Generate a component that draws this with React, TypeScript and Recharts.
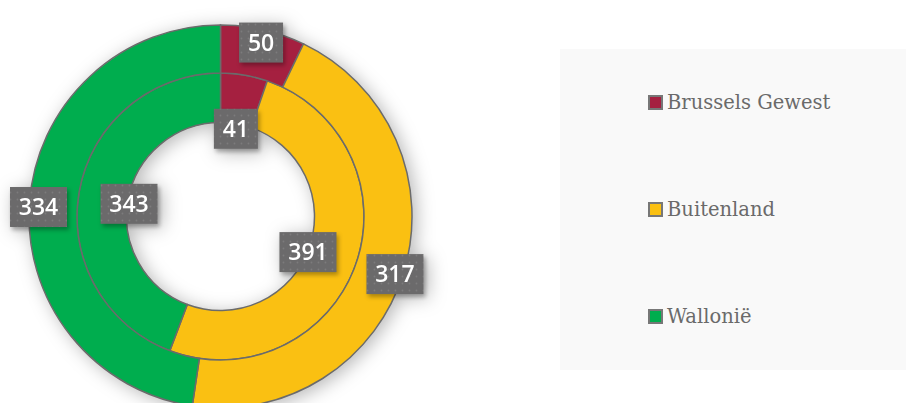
import React from "react";
import { PieChart, Pie, Cell, Legend } from "recharts";

const regions = ["Brussels Gewest", "Buitenland", "Wallonië"];
const outerValues = [50, 317, 334];
const innerValues = [41, 391, 343];
const colors = ["#a52040", "#fac012", "#00ad4e"];

const outerData = regions.map((name, i) => ({ name, value: outerValues[i] }));
const innerData = regions.map((name, i) => ({ name, value: innerValues[i] }));

const W = 906;
const H = 403;

const makeLabel = (ring: "inner" | "outer") => (props: any) => {
  const { cx, cy, midAngle, innerRadius, outerRadius, value } = props;
  const r = ring === "outer" ? outerRadius - 9 : innerRadius - 1;
  const rad = (-midAngle * Math.PI) / 180;
  const x = cx + r * Math.cos(rad);
  const y = cy + r * Math.sin(rad) + 4;
  const text = String(value);
  const w = text.length * 13 + 18;
  const h = 40;
  return (
    <g>
      <rect
        x={x - w / 2}
        y={y - h / 2}
        width={w}
        height={h}
        fill="url(#dots)"
        style={{ filter: "drop-shadow(2px 3px 2px rgba(0,0,0,0.3))" }}
      />
      <text
        x={x}
        y={y}
        dy="0.36em"
        textAnchor="middle"
        fill="#fff"
        fontSize={23}
        fontWeight={600}
        fontFamily="'Open Sans', sans-serif"
      >
        {text}
      </text>
    </g>
  );
};

function LegendPanel({ payload }: { payload?: any[] }) {
  const seen = new Set<string>();
  const items = (payload || []).filter((p) => {
    if (seen.has(p.value)) return false;
    seen.add(p.value);
    return true;
  });
  return (
    <div
      style={{
        width: 346,
        height: 321,
        background: "#f9f9f9",
        display: "flex",
        flexDirection: "column",
        justifyContent: "space-around",
        paddingLeft: 88,
        boxSizing: "border-box",
      }}
    >
      {items.map((p) => {
        const idx = regions.indexOf(p.value);
        return (
          <div key={p.value} style={{ display: "flex", alignItems: "center" }}>
            <span
              style={{
                width: 11,
                height: 11,
                background: colors[idx],
                border: "2px solid #777",
                display: "inline-block",
                marginRight: 4,
              }}
            />
            <span
              style={{
                fontFamily: "'DejaVu Serif', serif",
                fontSize: 19.5,
                color: "#6a6a6a",
                lineHeight: "24px",
              }}
            >
              {p.value}
            </span>
          </div>
        );
      })}
    </div>
  );
}

export default function App() {
  return (
    <div style={{ width: W, height: H, position: "relative", overflow: "hidden" }}>
      <style>{`body{margin:0} .recharts-surface{filter:drop-shadow(4px 3px 9px rgba(0,0,0,0.28));}`}</style>
      <PieChart width={W} height={H} margin={{ top: 0, right: 0, bottom: 0, left: 0 }}>
        <defs>
          <pattern id="dots" width="7" height="7" patternUnits="userSpaceOnUse">
            <rect width="7" height="7" fill="#6b6a6b" />
            <circle cx="3.5" cy="3.5" r="0.9" fill="#7c7b7c" />
          </pattern>
        </defs>
        <Pie
          data={innerData}
          dataKey="value"
          nameKey="name"
          cx={220.5}
          cy={216.5}
          innerRadius={94}
          outerRadius={143.5}
          startAngle={90}
          endAngle={-270}
          stroke="#6b6b6b"
          strokeWidth={1.5}
          label={makeLabel("inner")}
          labelLine={false}
          legendType="none"
          isAnimationActive={false}
        >
          {innerData.map((d, i) => (
            <Cell key={d.name} fill={colors[i]} />
          ))}
        </Pie>
        <Pie
          data={outerData}
          dataKey="value"
          nameKey="name"
          cx={220.5}
          cy={216.5}
          innerRadius={143.5}
          outerRadius={191.5}
          startAngle={90}
          endAngle={-270}
          stroke="#6b6b6b"
          strokeWidth={1.5}
          label={makeLabel("outer")}
          labelLine={false}
          legendType="square"
          isAnimationActive={false}
        >
          {outerData.map((d, i) => (
            <Cell key={d.name} fill={colors[i]} />
          ))}
        </Pie>
        <Legend
          layout="vertical"
          align="right"
          verticalAlign="top"
          wrapperStyle={{ left: 560, top: 49, width: 346, height: 321 }}
          content={(props: any) => <LegendPanel payload={props.payload} />}
        />
      </PieChart>
    </div>
  );
}
